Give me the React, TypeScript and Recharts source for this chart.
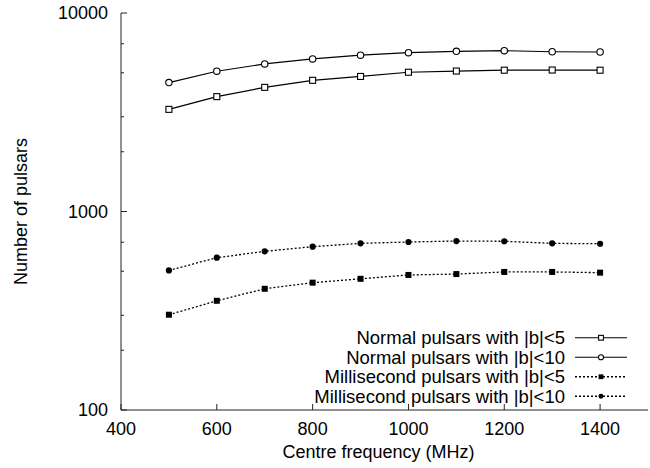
import React from "react";
import { LineChart, Line, XAxis, YAxis, Legend, Label } from "recharts";

const freqs = [500, 600, 700, 800, 900, 1000, 1100, 1200, 1300, 1400];
const normalB5 = [3270, 3790, 4220, 4580, 4790, 5030, 5100, 5150, 5160, 5150];
const normalB10 = [4460, 5090, 5540, 5870, 6130, 6310, 6410, 6460, 6380, 6360];
const msecB5 = [302, 355, 408, 438, 458, 479, 484, 496, 496, 492];
const msecB10 = [505, 585, 630, 665, 691, 702, 710, 708, 691, 688];

const seriesNames = [
  "Normal pulsars with |b|<5",
  "Normal pulsars with |b|<10",
  "Millisecond pulsars with |b|<5",
  "Millisecond pulsars with |b|<10",
];
const seriesKeys = ["n5", "n10", "m5", "m10"];
const markers = ["openSquare", "openCircle", "square", "circle"];

const xTicks = [400, 600, 800, 1000, 1200, 1400];
const yTicks = [
  100, 200, 300, 400, 500, 600, 700, 800, 900,
  1000, 2000, 3000, 4000, 5000, 6000, 7000, 8000, 9000, 10000,
];
const yLabels = [100, 1000, 10000];

const data = freqs.map((f, i) => ({
  freq: f,
  n5: normalB5[i],
  n10: normalB10[i],
  m5: msecB5[i],
  m10: msecB10[i],
}));

const FONT = "'Liberation Sans', Arial, Helvetica, sans-serif";
const AXIS = "#222";
const ROW = 19.5;

const Marker = ({ kind, cx, cy, s = 1 }: any) => {
  if (cx === undefined || cy === undefined) return null;
  const h = 3 * s;
  if (kind === "openSquare")
    return <rect x={cx - h} y={cy - h} width={2 * h} height={2 * h} fill="#fff" stroke="#000" strokeWidth={1.1} />;
  if (kind === "openCircle")
    return <circle cx={cx} cy={cy} r={3.2 * s} fill="#fff" stroke="#000" strokeWidth={1.1} />;
  if (kind === "square")
    return <rect x={cx - h} y={cy - h} width={2 * h} height={2 * h} fill="#000" />;
  return <circle cx={cx} cy={cy} r={3.1 * s} fill="#000" />;
};

const LeftTick = (props: any) => {
  const { x, y, payload } = props;
  const major = yLabels.includes(payload.value);
  return (
    <g>
      <line x1={x} x2={x + (major ? 6 : 3)} y1={y} y2={y} stroke={AXIS} />
      {major && (
        <text x={x - 13} y={y} textAnchor="end" dominantBaseline="central" fontSize={18} fill="#000" fontFamily={FONT}>
          {payload.value}
        </text>
      )}
    </g>
  );
};

const RightTick = (props: any) => {
  const { x, y, payload } = props;
  const major = yLabels.includes(payload.value);
  return <line x1={x} x2={x - (major ? 6 : 3)} y1={y} y2={y} stroke={AXIS} />;
};

const BottomTick = (props: any) => {
  const { x, y, payload } = props;
  return (
    <g>
      <line x1={x} x2={x} y1={y} y2={y - 6} stroke={AXIS} />
      <text x={x} y={y + 19} textAnchor="middle" dominantBaseline="central" fontSize={18} fill="#000" fontFamily={FONT}>
        {payload.value}
      </text>
    </g>
  );
};

const TopTick = (props: any) => {
  const { x, y } = props;
  return <line x1={x} x2={x} y1={y} y2={y + 6} stroke={AXIS} />;
};

const LegendBox = () => (
  <div style={{ position: "relative", width: 650, height: 80, fontFamily: FONT, fontSize: 18.5, color: "#000" }}>
    {seriesNames.map((name, i) => (
      <div
        key={name}
        style={{
          position: "absolute",
          right: 650 - 565,
          top: i * ROW,
          height: ROW,
          lineHeight: `${ROW}px`,
          whiteSpace: "nowrap",
        }}
      >
        {name}
      </div>
    ))}
    <svg width={650} height={80} style={{ position: "absolute", left: 0, top: 0 }}>
      {markers.map((m, i) => (
        <g key={m}>
          <line
            x1={575}
            x2={627}
            y1={i * ROW + ROW / 2}
            y2={i * ROW + ROW / 2}
            stroke="#000"
            strokeWidth={i < 2 ? 1.2 : 1.3}
            strokeDasharray={i < 2 ? undefined : "2 2"}
          />
          <Marker kind={m} cx={601} cy={i * ROW + ROW / 2} s={0.8} />
        </g>
      ))}
    </svg>
  </div>
);

export default function App() {
  return (
    <div style={{ position: "absolute", left: 0, top: 0, width: 650, height: 468, background: "#fff", fontFamily: FONT }}>
      <LineChart width={650} height={468} data={data} margin={{ top: 13, right: 2, bottom: 0, left: 0 }}>
        <XAxis
          xAxisId="bottom"
          dataKey="freq"
          type="number"
          domain={[400, 1500]}
          ticks={xTicks}
          allowDataOverflow
          height={58}
          tickSize={0}
          tickMargin={0}
          tick={BottomTick}
          axisLine={{ stroke: AXIS }}
        >
          <Label
            content={({ viewBox }: any) => (
              <text
                x={viewBox.x + viewBox.width / 2 - 6}
                y={452}
                textAnchor="middle"
                dominantBaseline="central"
                fontSize={18}
                fill="#000"
                fontFamily={FONT}
              >
                Centre frequency (MHz)
              </text>
            )}
          />
        </XAxis>
        <XAxis
          xAxisId="top"
          orientation="top"
          dataKey="freq"
          type="number"
          domain={[400, 1500]}
          ticks={xTicks}
          allowDataOverflow
          height={0}
          tickSize={0}
          tickMargin={0}
          tick={TopTick}
          axisLine={{ stroke: AXIS }}
        />
        <YAxis
          yAxisId="left"
          type="number"
          scale="log"
          domain={[100, 10000]}
          ticks={yTicks}
          allowDataOverflow
          width={121}
          tickSize={0}
          tickMargin={0}
          tick={LeftTick}
          axisLine={{ stroke: AXIS }}
        >
          <Label
            content={({ viewBox }: any) => (
              <text
                x={21}
                y={viewBox.y + viewBox.height / 2}
                textAnchor="middle"
                dominantBaseline="central"
                fontSize={18}
                fill="#000"
                fontFamily={FONT}
                transform={`rotate(-90, 21, ${viewBox.y + viewBox.height / 2})`}
              >
                Number of pulsars
              </text>
            )}
          />
        </YAxis>
        <YAxis
          yAxisId="right"
          orientation="right"
          type="number"
          scale="log"
          domain={[100, 10000]}
          ticks={yTicks}
          allowDataOverflow
          width={0}
          tickSize={0}
          tickMargin={0}
          tick={RightTick}
          axisLine={{ stroke: AXIS }}
        />
        <Legend
          layout="vertical"
          align="center"
          verticalAlign="middle"
          wrapperStyle={{ position: "absolute", left: 0, top: 328, width: 650 }}
          content={() => <LegendBox />}
        />
        {seriesKeys.map((k, i) => (
          <Line
            key={k}
            xAxisId="bottom"
            yAxisId="left"
            type="linear"
            dataKey={k}
            name={seriesNames[i]}
            stroke="#000"
            strokeWidth={i < 2 ? 1.2 : 1.3}
            strokeDasharray={i < 2 ? undefined : "2 2"}
            dot={(p: any) => <Marker key={`${k}-${p.index}`} kind={markers[i]} cx={p.cx} cy={p.cy} />}
            activeDot={false}
            isAnimationActive={false}
          />
        ))}
      </LineChart>
    </div>
  );
}
